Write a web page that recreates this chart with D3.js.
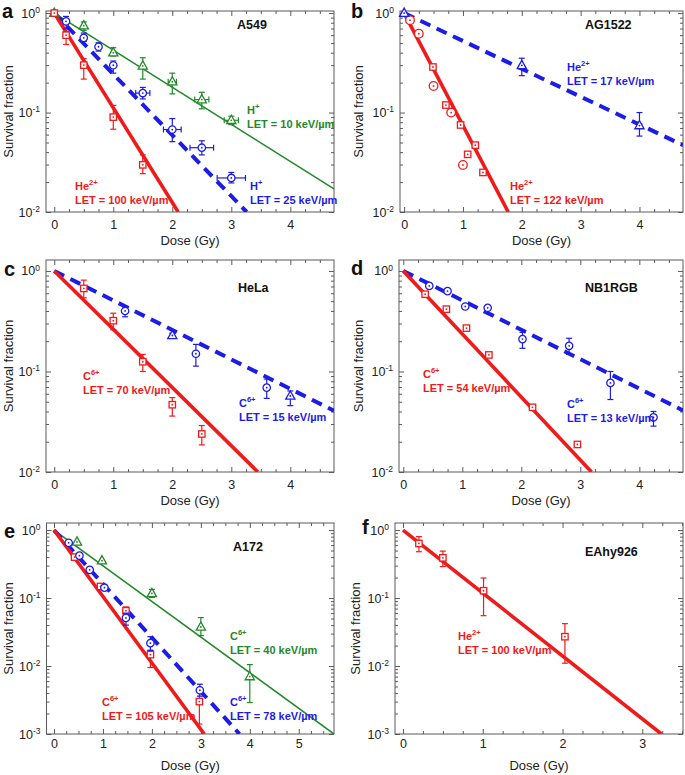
<!DOCTYPE html>
<html><head><meta charset="utf-8">
<script src="https://cdn.jsdelivr.net/npm/d3@7"></script>
<style>
body{margin:0;background:#fff}
svg{display:block}
text{font-family:Arial,"Liberation Sans",Helvetica,sans-serif}
</style></head>
<body><svg id="chart" width="685" height="775"></svg>
<script>
// ---------- tick labels ----------
const X_TICKS_4 = [0, 1, 2, 3, 4];
const X_TICKS_5 = [0, 1, 2, 3, 4, 5];
const X_TICKS_3 = [0, 1, 2, 3];
const Y_EXP_2 = [0, -1, -2];
const Y_EXP_3 = [0, -1, -2, -3];

// ---------- data: [dose (Gy), survival fraction, SF low, SF high, dose error] ----------
// a  A549
const a_He100 = [[0,1],[0.2,0.6,0.484,0.657],[0.5,0.3,0.217,0.348],[1.0,0.09,0.068,0.118],[1.5,0.0298,0.0243,0.0375]];
const a_H25 = [[0.2,0.826,0.693,0.926],[0.5,0.564,0.52,0.63],[0.75,0.459,0.415,0.503],[1.0,0.299,0.249,0.33],[1.5,0.157,0.137,0.179,0.12],[2.0,0.0675,0.051,0.087,0.15],[2.5,0.0443,0.0375,0.052,0.2],[3.0,0.022,0.0196,0.025,0.24]];
const a_H10 = [[0,1],[0.5,0.748,0.672,0.814],[1.0,0.4,0.37,0.449],[1.5,0.295,0.217,0.356],[2.0,0.204,0.154,0.249,0.07],[2.5,0.135,0.109,0.16,0.12],[3.0,0.0836,0.0757,0.092,0.12]];
const a_He100_fit = [[0,1],[2.1,0.01]];
const a_H25_fit = [[0,1],[3.26,0.01]];
const a_H10_fit = [[0,1],[4.74,0.0171]];
// b  AG1522
const b_He17 = [[0,1],[2.0,0.298,0.235,0.352],[4.0,0.074,0.058,0.1]];
const b_He17_fit = [[0,1],[4.74,0.047]];
const b_He122_sq = [[0.49,0.287],[0.71,0.119],[0.96,0.075],[1.08,0.038],[1.21,0.047],[1.34,0.025]];
const b_He122_ci = [[0.1,0.85],[0.25,0.62],[0.5,0.185],[0.8,0.1],[1.0,0.0297]];
const b_He122_fit = [[0,1],[1.77,0.01]];
// c  HeLa
const c_C70 = [[0.5,0.67,0.54,0.81],[1.0,0.32,0.26,0.38],[1.5,0.125,0.1,0.148],[2.0,0.0467,0.036,0.055],[2.5,0.0239,0.0186,0.029]];
const c_C70_fit = [[0,1],[3.45,0.01]];
const c_C15_ci = [[1.2,0.4,0.35,0.44],[2.4,0.15,0.113,0.186],[3.6,0.069,0.054,0.084]];
const c_C15_tr = [[2.0,0.228,0.215,0.24],[4.0,0.057,0.0457,0.064]];
const c_C15_fit = [[0,1],[4.74,0.0407]];
// d  NB1RGB
const d_C54 = [[0.37,0.587],[0.73,0.417],[1.07,0.27],[1.45,0.146],[2.19,0.044],[2.95,0.0188]];
const d_C54_fit = [[0,1],[3.19,0.01]];
const d_C13 = [[0.44,0.71],[0.75,0.63],[1.05,0.443],[1.43,0.43],[2.02,0.21,0.17,0.245],[2.81,0.18,0.148,0.214],[3.51,0.077,0.0526,0.1],[4.24,0.035,0.0286,0.04]];
const d_C13_fit = [[0,1],[4.74,0.041]];
// e  A172
const e_C40 = [[0.47,0.67],[0.98,0.355],[2.0,0.117,0.102,0.134],[3.0,0.0375,0.028,0.0516],[4.0,0.007,0.0029,0.0105]];
const e_C40_fit = [[0,1],[5.72,0.001]];
const e_C105 = [[0.42,0.4],[0.95,0.148],[1.47,0.065,0.055,0.074],[1.97,0.0147,0.0095,0.017],[2.97,0.003,0.0014,0.0043]];
const e_C105_fit = [[0,1],[3.07,0.001]];
const e_C78 = [[0.3,0.65],[0.52,0.42],[0.73,0.26],[1.03,0.142],[1.47,0.051,0.04,0.06],[1.97,0.0217,0.017,0.027],[2.98,0.0044,0.0036,0.0054]];
const e_C78_fit = [[0,1],[3.79,0.001]];
// f  EAhy926
const f_He100 = [[0.2,0.635,0.48,0.8],[0.5,0.39,0.29,0.49],[1.01,0.128,0.055,0.197],[2.03,0.027,0.011,0.042]];
const f_He100_fit = [[0,1],[3.24,0.001]];

// ---------- styles ----------
const RED = "#f01a1a", BLUE = "#1c1ce8", GREEN = "#23892a";
const FRAME = "#5a5a5a";
const LINE = {
  red:   {color: RED,   width: 3.6, dash: null},
  blue:  {color: BLUE,  width: 4,   dash: "11,7"},
  green: {color: GREEN, width: 1.6, dash: null}
};

const svg = d3.select("#chart");

function ion(sel, name, charge, x, y, color){
  const t = sel.append("text").attr("x", x).attr("y", y).attr("fill", color)
    .attr("font-size", 11).attr("font-weight", "bold");
  t.append("tspan").text(name);
  t.append("tspan").attr("font-size", 7.5).attr("dy", -5).text(charge);
}
function letLabel(sel, txt, x, y, color){
  sel.append("text").attr("x", x).attr("y", y).attr("fill", color)
    .attr("font-size", 11).attr("font-weight", "bold").text(txt);
}

function panel(cfg){
  const x = d3.scaleLinear().domain(cfg.xd).range([cfg.l, cfg.r]);
  const y = d3.scaleLog().domain(cfg.yd).range([cfg.b, cfg.t]);
  const g = svg.append("g");
  const clipId = "clip-" + cfg.letter;
  svg.append("clipPath").attr("id", clipId).append("rect")
    .attr("x", cfg.l).attr("y", cfg.t).attr("width", cfg.r - cfg.l).attr("height", cfg.b - cfg.t);

  const xMinor = d3.range(0, cfg.xd[1] + 1e-9, 0.25).filter(v => !cfg.xticks.includes(v));
  const yMajor = cfg.yexp.map(e => Math.pow(10, e));
  const yMinor = [];
  cfg.yexp.forEach(e => { if (e < 0) for (let k = 2; k <= 9; k++) { const v = k * Math.pow(10, e); if (v <= cfg.yd[1]) yMinor.push(v); } });

  const axG = g.append("g").attr("class", "axes");
  const style = s => { s.select(".domain").remove(); s.selectAll("line").attr("stroke", FRAME).attr("stroke-width", 1); s.selectAll("text").attr("fill", "#222").attr("font-size", 12.5); };

  axG.append("g").attr("transform", `translate(0,${cfg.b})`)
    .call(d3.axisBottom(x).tickValues(cfg.xticks).tickSize(-5).tickPadding(cfg.xpad).tickFormat(d3.format("d"))).call(style);
  axG.append("g").attr("transform", `translate(0,${cfg.b})`)
    .call(d3.axisBottom(x).tickValues(xMinor).tickSize(-3).tickFormat("")).call(style);
  axG.append("g").attr("transform", `translate(0,${cfg.t})`)
    .call(d3.axisTop(x).tickValues(cfg.xticks).tickSize(-5).tickFormat("")).call(style);
  axG.append("g").attr("transform", `translate(0,${cfg.t})`)
    .call(d3.axisTop(x).tickValues(xMinor).tickSize(-3).tickFormat("")).call(style);
  const left = axG.append("g").attr("transform", `translate(${cfg.l},0)`)
    .call(d3.axisLeft(y).tickValues(yMajor).tickSize(-5).tickPadding(6).tickFormat(d => String(Math.round(Math.log10(d))))).call(style);
  left.selectAll(".tick text").each(function(){
    const t = d3.select(this); const ex = t.text(); t.text(null);
    t.append("tspan").text("10");
    t.append("tspan").attr("font-size", 8.5).attr("dy", "-0.55em").text(ex);
  });
  axG.append("g").attr("transform", `translate(${cfg.l},0)`)
    .call(d3.axisLeft(y).tickValues(yMinor).tickSize(-3).tickFormat("")).call(style);
  axG.append("g").attr("transform", `translate(${cfg.r},0)`)
    .call(d3.axisRight(y).tickValues(yMajor).tickSize(-5).tickFormat("")).call(style);
  axG.append("g").attr("transform", `translate(${cfg.r},0)`)
    .call(d3.axisRight(y).tickValues(yMinor).tickSize(-3).tickFormat("")).call(style);

  g.append("rect").attr("x", cfg.l).attr("y", cfg.t).attr("width", cfg.r - cfg.l).attr("height", cfg.b - cfg.t)
    .attr("fill", "none").attr("stroke", FRAME).attr("stroke-width", 1);

  g.append("text").attr("x", (cfg.l + cfg.r) / 2).attr("y", cfg.xtitleY).attr("text-anchor", "middle")
    .attr("font-size", 13).attr("fill", "#222").text("Dose (Gy)");
  g.append("text").attr("transform", `translate(${cfg.ylabX},${(cfg.t + cfg.b) / 2}) rotate(-90)`)
    .attr("text-anchor", "middle").attr("dy", "0.35em").attr("font-size", 13).attr("fill", "#222").text("Survival fraction");
  g.append("text").attr("x", cfg.letterPos[0]).attr("y", cfg.letterPos[1]).attr("font-size", 20)
    .attr("font-weight", "bold").attr("fill", "#111").text(cfg.letter);
  g.append("text").attr("x", cfg.namePos[0]).attr("y", cfg.namePos[1]).attr("font-size", 12.5)
    .attr("font-weight", "bold").attr("fill", "#111").text(cfg.name);

  const lineGen = d3.line().x(d => x(d[0])).y(d => y(d[1]));
  const plot = g.append("g").attr("clip-path", `url(#${clipId})`);
  cfg.fits.forEach(f => {
    const st = LINE[f.style];
    plot.append("path").datum(f.data).attr("d", lineGen).attr("fill", "none")
      .attr("stroke", st.color).attr("stroke-width", st.width)
      .attr("stroke-dasharray", st.dash);
  });

  const pts = g.append("g");
  cfg.series.forEach(s => {
    s.data.forEach(d => {
      const cx = x(d[0]), cy = y(d[1]);
      const eg = pts.append("g").attr("stroke", s.color).attr("stroke-width", 1.2).attr("fill", "none");
      if (d.length >= 4) {
        const y1 = y(d[2]), y2 = y(d[3]);
        eg.append("line").attr("x1", cx).attr("x2", cx).attr("y1", y1).attr("y2", y2);
        eg.append("line").attr("x1", cx - 3).attr("x2", cx + 3).attr("y1", y1).attr("y2", y1);
        eg.append("line").attr("x1", cx - 3).attr("x2", cx + 3).attr("y1", y2).attr("y2", y2);
      }
      if (d.length >= 5) {
        const x1 = x(d[0] - d[4]), x2 = x(d[0] + d[4]);
        eg.append("line").attr("x1", x1).attr("x2", x2).attr("y1", cy).attr("y2", cy);
        eg.append("line").attr("x1", x1).attr("x2", x1).attr("y1", cy - 3).attr("y2", cy + 3);
        eg.append("line").attr("x1", x2).attr("x2", x2).attr("y1", cy - 3).attr("y2", cy + 3);
      }
      const m = pts.append("g").attr("transform", `translate(${cx},${cy})`);
      if (s.shape === "square") {
        m.append("rect").attr("x", -3.2).attr("y", -3.2).attr("width", 6.4).attr("height", 6.4)
          .attr("fill", "#fff").attr("stroke", s.color).attr("stroke-width", 1.3);
      } else if (s.shape === "circle") {
        m.append("circle").attr("r", s.r || 3.7).attr("fill", "#fff").attr("stroke", s.color).attr("stroke-width", 1.3);
      } else {
        m.append("path").attr("d", "M0,-5L4.6,3.2L-4.6,3.2Z").attr("fill", "#fff").attr("stroke", s.color).attr("stroke-width", 1.3);
      }
      m.append("circle").attr("r", 0.9).attr("fill", s.color);
    });
  });

  cfg.labels.forEach(L => {
    ion(g, L.ion, L.charge, L.x, L.y, L.color);
    letLabel(g, L.let, L.x, L.y + 14, L.color);
  });
}

const ROW1 = {t: 11, b: 212, yd: [0.01, 1.05], yexp: Y_EXP_2, xpad: 8, xtitleY: 245};
const ROW2 = {t: 260, b: 472, yd: [0.01, 1.285], yexp: Y_EXP_2, xpad: 8.5, xtitleY: 505};
const ROW3 = {t: 523, b: 734, yd: [0.001, 1.27], yexp: Y_EXP_3, xpad: 5.5, xtitleY: 770};

panel(Object.assign({}, ROW1, {
  letter: "a", name: "A549", namePos: [237, 29], l: 46, r: 334, xd: [-0.14, 4.74], xticks: X_TICKS_4,
  letterPos: [2, 18], ylabX: 8,
  fits: [{data: a_H10_fit, style: "green"}, {data: a_H25_fit, style: "blue"}, {data: a_He100_fit, style: "red"}],
  series: [{data: a_H10, shape: "triangle", color: GREEN}, {data: a_H25, shape: "circle", color: BLUE}, {data: a_He100, shape: "square", color: RED}],
  labels: [
    {ion: "H", charge: "+", let: "LET = 10 keV/\u00b5m", x: 247, y: 114, color: GREEN},
    {ion: "He", charge: "2+", let: "LET = 100 keV/\u00b5m", x: 75, y: 190, color: RED},
    {ion: "H", charge: "+", let: "LET = 25 keV/\u00b5m", x: 250, y: 190, color: BLUE}
  ]
}));

panel(Object.assign({}, ROW1, {
  letter: "b", name: "AG1522", namePos: [585, 29], l: 400, r: 683, xd: [-0.07, 4.74], xticks: X_TICKS_4,
  letterPos: [351, 18], ylabX: 358,
  fits: [{data: b_He17_fit, style: "blue"}, {data: b_He122_fit, style: "red"}],
  series: [{data: b_He122_ci, shape: "circle", color: RED, r: 4.3}, {data: b_He122_sq, shape: "square", color: RED}, {data: b_He17, shape: "triangle", color: BLUE}],
  labels: [
    {ion: "He", charge: "2+", let: "LET = 17 keV/\u00b5m", x: 567, y: 71, color: BLUE},
    {ion: "He", charge: "2+", let: "LET = 122 keV/\u00b5m", x: 510, y: 190, color: RED}
  ]
}));

panel(Object.assign({}, ROW2, {
  letter: "c", name: "HeLa", namePos: [238, 292], l: 46, r: 334, xd: [-0.14, 4.74], xticks: X_TICKS_4,
  letterPos: [4, 276], ylabX: 8,
  fits: [{data: c_C15_fit, style: "blue"}, {data: c_C70_fit, style: "red"}],
  series: [{data: c_C15_ci, shape: "circle", color: BLUE}, {data: c_C15_tr, shape: "triangle", color: BLUE}, {data: c_C70, shape: "square", color: RED}],
  labels: [
    {ion: "C", charge: "6+", let: "LET = 70 keV/\u00b5m", x: 83, y: 380, color: RED},
    {ion: "C", charge: "6+", let: "LET = 15 keV/\u00b5m", x: 239, y: 407, color: BLUE}
  ]
}));

panel(Object.assign({}, ROW2, {
  letter: "d", name: "NB1RGB", namePos: [585, 292], l: 399, r: 683, xd: [-0.073, 4.74], xticks: X_TICKS_4,
  letterPos: [351, 275], ylabX: 358,
  fits: [{data: d_C13_fit, style: "blue"}, {data: d_C54_fit, style: "red"}],
  series: [{data: d_C13, shape: "circle", color: BLUE}, {data: d_C54, shape: "square", color: RED}],
  labels: [
    {ion: "C", charge: "6+", let: "LET = 54 keV/\u00b5m", x: 423, y: 378, color: RED},
    {ion: "C", charge: "6+", let: "LET = 13 keV/\u00b5m", x: 567, y: 408, color: BLUE}
  ]
}));

panel(Object.assign({}, ROW3, {
  letter: "e", name: "A172", namePos: [233, 551], l: 46.5, r: 334, xd: [-0.153, 5.72], xticks: X_TICKS_5,
  letterPos: [4, 538], ylabX: 8,
  fits: [{data: e_C40_fit, style: "green"}, {data: e_C78_fit, style: "blue"}, {data: e_C105_fit, style: "red"}],
  series: [{data: e_C40, shape: "triangle", color: GREEN}, {data: e_C105, shape: "square", color: RED}, {data: e_C78, shape: "circle", color: BLUE}],
  labels: [
    {ion: "C", charge: "6+", let: "LET = 40 keV/\u00b5m", x: 230, y: 640, color: GREEN},
    {ion: "C", charge: "6+", let: "LET = 105 keV/\u00b5m", x: 102, y: 706, color: RED},
    {ion: "C", charge: "6+", let: "LET = 78 keV/\u00b5m", x: 230, y: 706, color: BLUE}
  ]
}));

panel(Object.assign({}, ROW3, {
  letter: "f", name: "EAhy926", namePos: [585, 556], l: 395, r: 683, xd: [-0.1, 3.51], xticks: X_TICKS_3,
  letterPos: [362, 534], ylabX: 355,
  fits: [{data: f_He100_fit, style: "red"}],
  series: [{data: f_He100, shape: "square", color: RED}],
  labels: [
    {ion: "He", charge: "2+", let: "LET = 100 keV/\u00b5m", x: 458, y: 640, color: RED}
  ]
}));
</script>
</body></html>
